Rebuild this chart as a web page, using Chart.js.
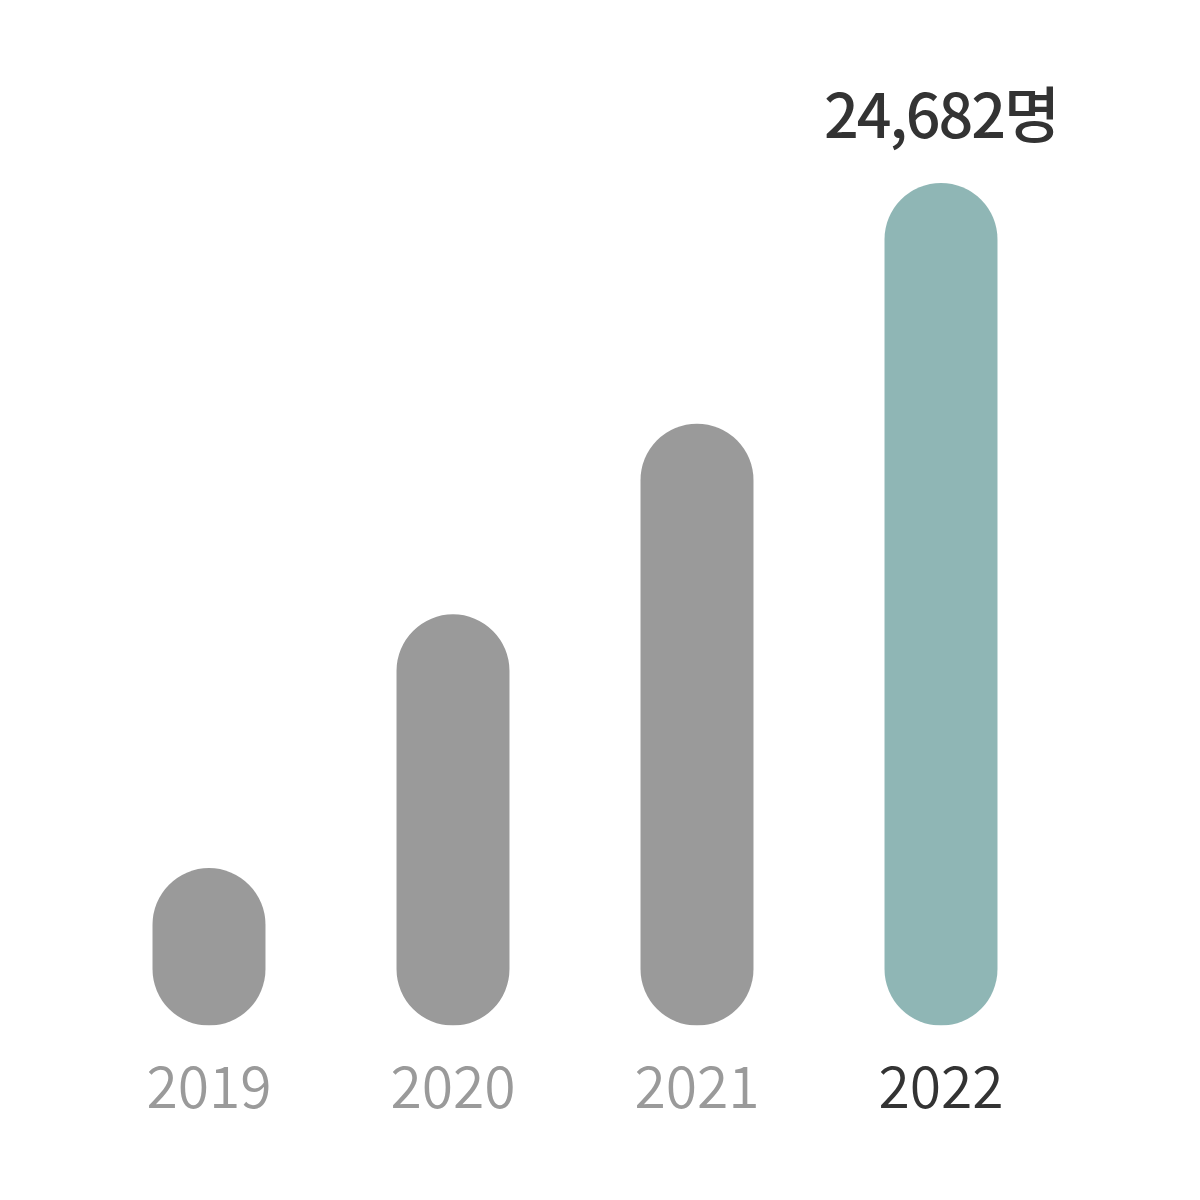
<!DOCTYPE html>
<html>
<head>
<meta charset="utf-8">
<script src="https://cdn.jsdelivr.net/npm/chart.js@4"></script>
<style>
  html, body { margin: 0; padding: 0; background: #fff; }
  #wrap { width: 1200px; height: 1200px; }
</style>
</head>
<body>
<div id="wrap"><canvas id="chart" width="1200" height="1200"></canvas></div>
<script>
const years = ['2019', '2020', '2021', '2022']
const people = [4613, 12047, 17630, 24682]
const barColors = ['#9a9a9a', '#9a9a9a', '#9a9a9a', '#8fb6b5']
const tickColors = ['#9a9a9a', '#9a9a9a', '#9a9a9a', '#333333']
const highlightIndex = 3
const unit = '명'

const fontFamily = "'Noto Sans CJK KR', 'Noto Sans', sans-serif"

// label only above the highlighted bar
const valueLabel = {
    id: 'valueLabel',
    afterDatasetsDraw(chart) {
        const bar = chart.getDatasetMeta(0).data[highlightIndex]
        const ctx = chart.ctx
        ctx.save()
        ctx.font = `500 61px ${fontFamily}`
        ctx.letterSpacing = '-2px'
        ctx.fillStyle = '#333333'
        ctx.textAlign = 'center'
        ctx.textBaseline = 'alphabetic'
        ctx.fillText(people[highlightIndex].toLocaleString('en-US') + unit, bar.x, bar.y - 45)
        ctx.restore()
    },
}

new Chart(document.getElementById('chart'), {
    type: 'bar',
    data: {
        labels: years,
        datasets: [{
            data: people,
            backgroundColor: barColors,
            borderRadius: 200,
            borderSkipped: false,
            barPercentage: 0.463,
            categoryPercentage: 1,
        }],
    },
    options: {
        responsive: false,
        animation: false,
        layout: { padding: { left: 87, right: 137, top: 183, bottom: 60 } },
        plugins: { legend: { display: false }, tooltip: { enabled: false } },
        scales: {
            y: { display: false, min: 0, max: people[highlightIndex] },
            x: {
                grid: { display: false },
                border: { display: false },
                ticks: {
                    padding: 19,
                    color: (ctx) => tickColors[ctx.index],
                    font: { family: fontFamily, size: 57, weight: 350 },
                },
            },
        },
    },
    plugins: [valueLabel],
})
</script>
</body>
</html>
